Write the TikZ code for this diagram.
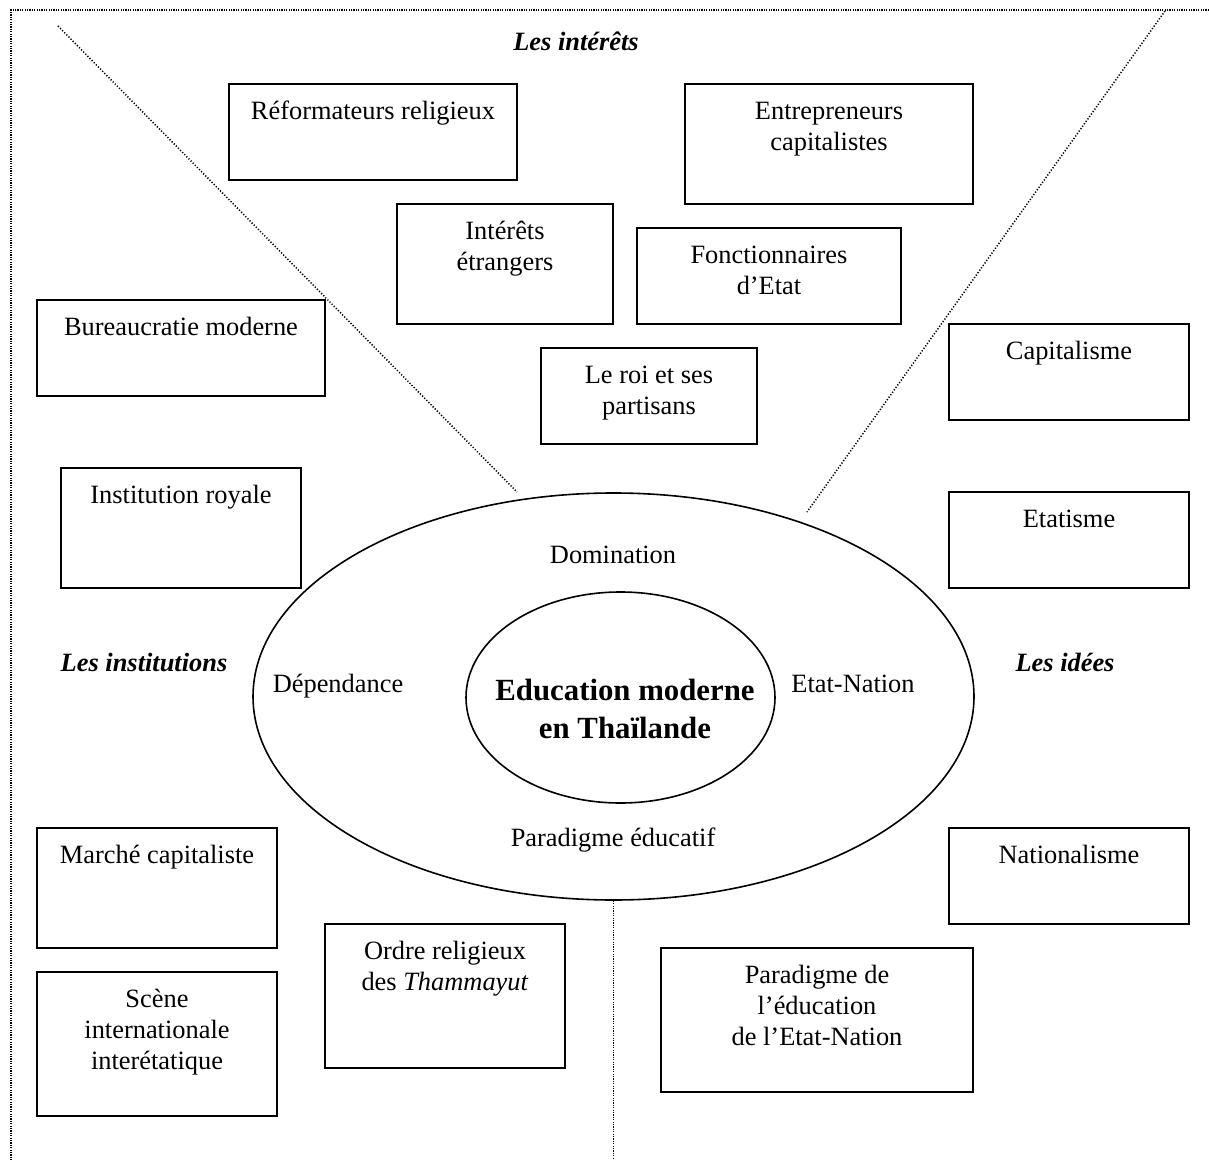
\documentclass[tikz,border=0pt]{standalone}
\usepackage{fontspec}
\setmainfont{Liberation Serif}
\usetikzlibrary{shapes.geometric}
\begin{document}
\begin{tikzpicture}[x=0.5pt,y=-0.5pt,
  box/.style={draw, line width=0.7pt, rectangle, inner sep=0pt},
  lbl/.style={font=\fontsize{13.2}{15.5}\selectfont, align=center, inner sep=0pt, anchor=north},
  plain/.style={font=\fontsize{13.2}{15.5}\selectfont, inner sep=0pt, anchor=base},
  head/.style={font=\fontsize{13.2}{15.5}\selectfont\bfseries\itshape, inner sep=0pt, anchor=base},
  dots/.style={line width=0.75pt, dash pattern=on 0.6pt off 0.6pt},
  ddots/.style={line width=0.75pt, dash pattern=on 0.6pt off 0.9pt},
  ring/.style={draw, ellipse, line width=0.8pt, inner sep=0pt}
  ]
\useasboundingbox (0,0) rectangle (1209,1160);

% frame
\coordinate (tl) at (11,10);
\coordinate (tr) at (1209,10);
\coordinate (bl) at (11,1160);
\draw[dots] (tr) -- (tl) -- (bl);

% ellipses
\node[ring, minimum width=360.5pt, minimum height=203.5pt] (outer) at (613.5,696.5) {};
\node[ring, minimum width=154.5pt, minimum height=105.5pt] (inner) at (620.5,697.5) {};

% dotted separators
\coordinate (dl1) at (58,26);
\coordinate (dl2) at (517,492);
\coordinate (dr1) at (1165,11);
\coordinate (dr2) at (807,512);
\coordinate (vb2) at (613.5,1160);
\draw[ddots] (dl1) -- (dl2);
\draw[ddots] (dr1) -- (dr2);
\draw[dots] (outer.south) -- (vb2);

% boxes
\node[box, minimum width=144pt, minimum height=48pt] (b1) at (373,132) {};
\node[lbl] (t1) at ([yshift=-7.1pt]b1.north) {\strut Réformateurs religieux};

\node[box, minimum width=144pt, minimum height=60pt] (b2) at (829,144) {};
\node[lbl] (t2) at ([yshift=-7.1pt]b2.north) {\strut Entrepreneurs\\capitalistes};

\node[box, minimum width=108pt, minimum height=60pt] (b3) at (505,264) {};
\node[lbl] (t3) at ([yshift=-7.1pt]b3.north) {\strut Intérêts\\étrangers};

\node[box, minimum width=132pt, minimum height=48pt] (b4) at (769,276) {};
\node[lbl] (t4) at ([yshift=-7.1pt]b4.north) {\strut Fonctionnaires\\d’Etat};

\node[box, minimum width=108pt, minimum height=48pt] (b5) at (649,396) {};
\node[lbl] (t5) at ([yshift=-7.1pt]b5.north) {\strut Le roi et ses\\partisans};

\node[box, minimum width=144pt, minimum height=48pt] (b6) at (181,348) {};
\node[lbl] (t6) at ([yshift=-7.1pt]b6.north) {\strut Bureaucratie moderne};

\node[box, minimum width=120pt, minimum height=48pt] (b7) at (1069,372) {};
\node[lbl] (t7) at ([yshift=-7.1pt]b7.north) {\strut Capitalisme};

\node[box, minimum width=120pt, minimum height=60pt] (b8) at (181,528) {};
\node[lbl] (t8) at ([yshift=-7.1pt]b8.north) {\strut Institution royale};

\node[box, minimum width=120pt, minimum height=48pt] (b9) at (1069,540) {};
\node[lbl] (t9) at ([yshift=-7.1pt]b9.north) {\strut Etatisme};

\node[box, minimum width=120pt, minimum height=60pt] (b10) at (157,888) {};
\node[lbl] (t10) at ([yshift=-7.1pt]b10.north) {\strut Marché capitaliste};

\node[box, minimum width=120pt, minimum height=48pt] (b11) at (1069,876) {};
\node[lbl] (t11) at ([yshift=-7.1pt]b11.north) {\strut Nationalisme};

\node[box, minimum width=120pt, minimum height=72pt] (b12) at (445,996) {};
\node[lbl] (t12) at ([yshift=-7.1pt]b12.north) {\strut Ordre religieux\\des \textit{Thammayut}};

\node[box, minimum width=120pt, minimum height=72pt] (b13) at (157,1044) {};
\node[lbl] (t13) at ([yshift=-7.1pt]b13.north) {\strut Scène\\internationale\\interétatique};

\node[box, minimum width=156pt, minimum height=72pt] (b14) at (817,1020) {};
\node[lbl] (t14) at ([yshift=-7.1pt]b14.north) {\strut Paradigme de\\l’éducation\\de l’Etat-Nation};

% headings
\node[head] (h1) at (576,51) {Les intérêts};
\node[head] (h2) at (144,671) {Les institutions};
\node[head] (h3) at (1065,671) {Les idées};

% ring labels
\node[plain] (r1) at (613,563) {Domination};
\node[plain] (r2) at (338,692) {Dépendance};
\node[plain] (r3) at (853,692) {Etat-Nation};
\node[plain] (r4) at (613,846) {Paradigme éducatif};

% centre
\node[font=\fontsize{15.4}{19}\selectfont\bfseries, align=center, inner sep=0pt, anchor=north] (centre) at (625,673.4) {\strut Education moderne\\en Thaïlande};
\end{tikzpicture}
\end{document}
